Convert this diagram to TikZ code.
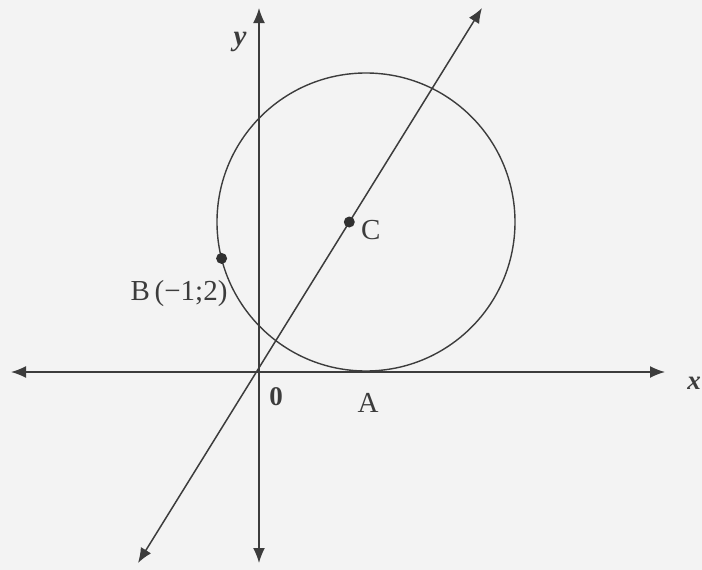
\documentclass[tikz,border=0pt]{standalone}
\usepackage{fontspec}
\setmainfont{Liberation Serif}
\usetikzlibrary{arrows.meta}
\definecolor{bgc}{RGB}{243,243,243}
\definecolor{ink}{RGB}{60,60,60}
\tikzset{
  axis/.style={draw=ink, line width=1.5pt, {Latex[length=15pt,width=12pt]}-{Latex[length=15pt,width=12pt]}},
  curve/.style={draw=ink, line width=1.4pt},
  dotpt/.style={circle, fill=ink!80!black, inner sep=0pt, minimum size=11pt},
  lbl/.style={text=ink, font=\fontsize{29}{32}\selectfont, inner sep=0pt},
}
\begin{document}
\begin{tikzpicture}[x=1pt,y=-1pt]
\fill[bgc] (0,0) rectangle (702,570);
\useasboundingbox (0,0) rectangle (702,570);
% axes
\coordinate (xl) at (11,372);
\coordinate (xr) at (665,372);
\coordinate (yt) at (259,8);
\coordinate (yb) at (259,563);
\coordinate (O) at (259,372);
\coordinate (Lb) at (138,563);
\coordinate (Lt) at (482,8);
\coordinate (Ctr) at (366,222);
\draw[axis] (xl) -- (xr);
\draw[axis] (yb) -- (yt);
\draw[axis] (Lb) -- (Lt);
% circle
\draw[curve] (Ctr) circle[radius=149];
% points
\node[dotpt] (C) at (349.3,222) {};
\node[dotpt] (B) at (221.6,258.4) {};
\coordinate (A) at (366,372);
% labels
\node[lbl, anchor=west] (Clbl) at (361,230) {C};
\node[lbl] (Blbl) at (179,294) {B\,(−1;2)};
\node[lbl] (Albl) at (368,403) {A};
\node[lbl, font=\fontsize{27}{30}\selectfont\bfseries] (Olbl) at (276,397) {0};
\node[lbl, font=\fontsize{29}{32}\selectfont\itshape\bfseries] (ylbl) at (240,42) {y};
\node[lbl, font=\fontsize{27}{30}\selectfont\itshape\bfseries, anchor=east] (xlbl) at (701,383) {x};
\end{tikzpicture}
\end{document}
